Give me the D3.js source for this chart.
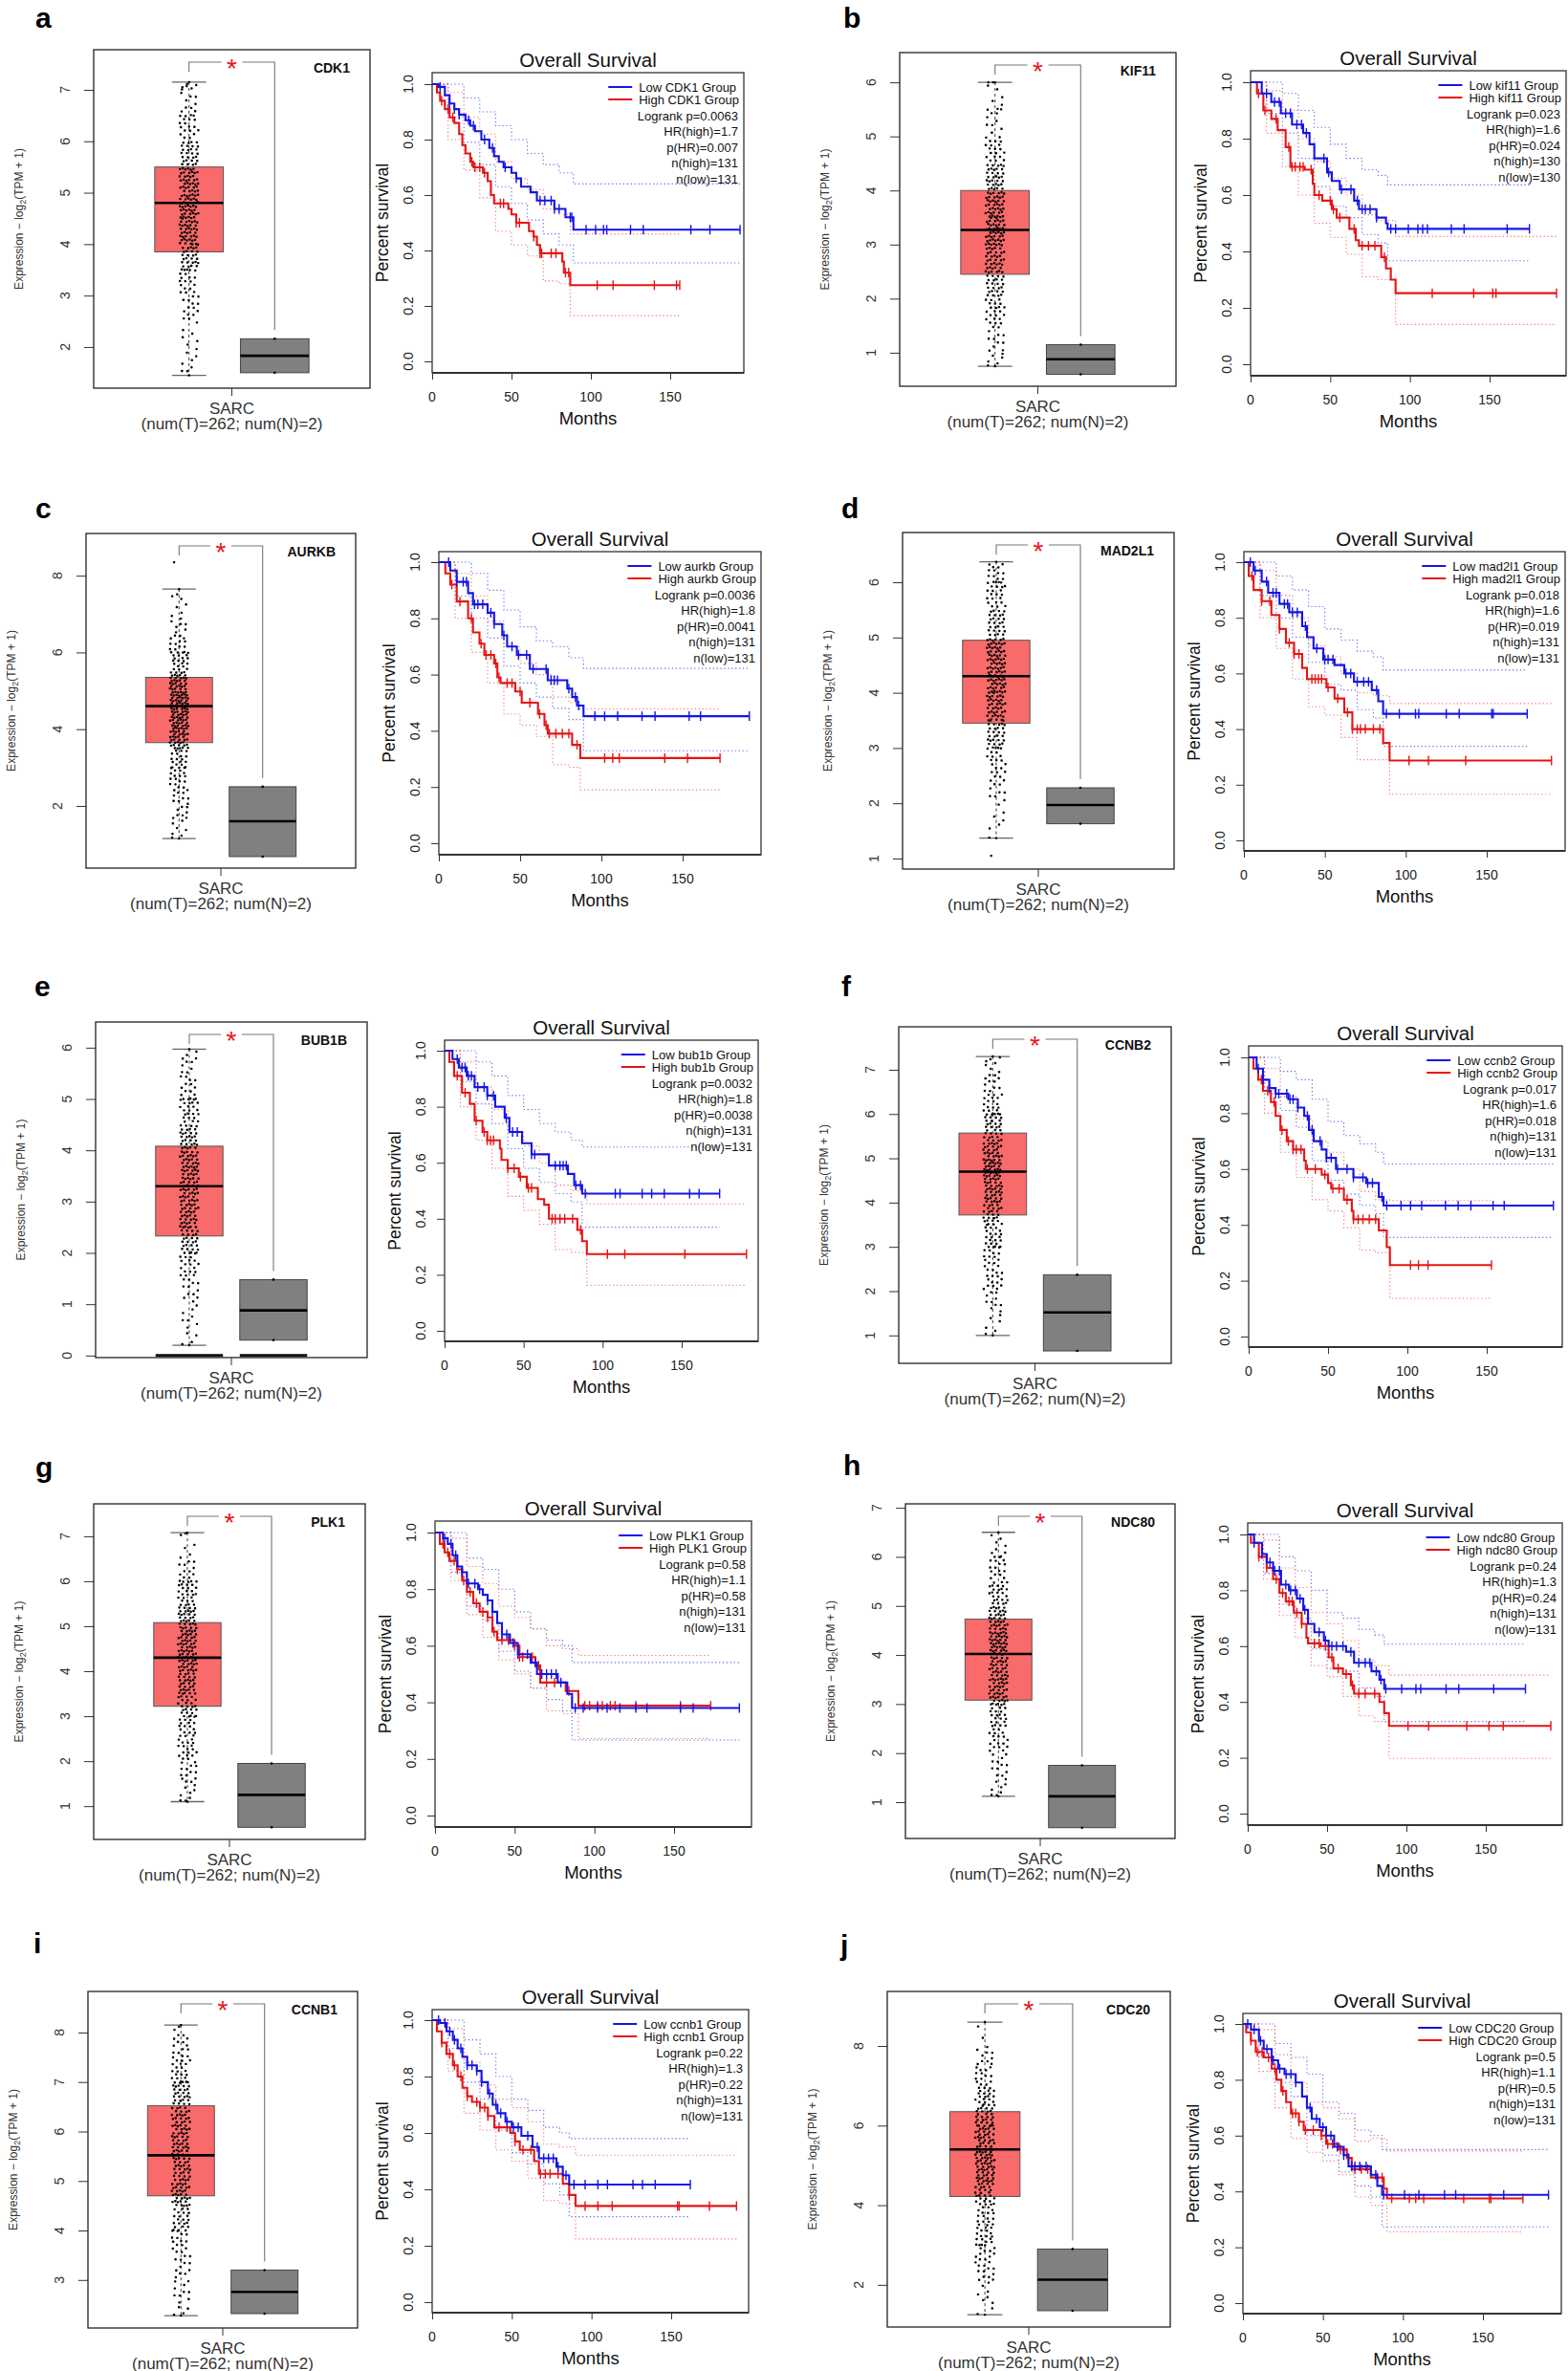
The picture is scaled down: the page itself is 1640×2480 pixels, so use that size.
<!DOCTYPE html>
<html><head><meta charset="utf-8">
<script src="https://cdn.jsdelivr.net/npm/d3@7"></script>
<style>body{margin:0;background:#fff}</style>
</head><body>
<svg id="fig" width="1640" height="2480" xmlns="http://www.w3.org/2000/svg"></svg>
<script>
// ---------------- DATA ----------------
const panelLetters = ["a","b","c","d","e","f","g","h","i","j"];
const genes = ["CDK1","KIF11","AURKB","MAD2L1","BUB1B","CCNB2","PLK1","NDC80","CCNB1","CDC20"];
const legendNames = ["CDK1","kif11","aurkb","mad2l1","bub1b","ccnb2","PLK1","ndc80","ccnb1","CDC20"];
const logrankP = ["0.0063","0.023","0.0036","0.018","0.0032","0.017","0.58","0.24","0.22","0.5"];
const hrHigh = ["1.7","1.6","1.8","1.6","1.8","1.6","1.1","1.3","1.3","1.1"];
const pHR = ["0.007","0.024","0.0041","0.019","0.0038","0.018","0.58","0.24","0.22","0.5"];
const nHigh = [131,130,131,131,131,131,131,131,131,131];
const nLow  = [131,130,131,131,131,131,131,131,131,131];
const cancerType = "SARC";
const sampleNote = "(num(T)=262; num(N)=2)";

// tumor box: [min, q1, median, q3, max]
const tumorBox = [
  [1.45,3.85,4.8,5.5,7.15],[0.75,2.45,3.27,4.0,6.0],[1.15,3.65,4.6,5.35,7.65],[1.37,3.45,4.3,4.95,6.37],
  [0.2,2.33,3.3,4.08,5.97],[1.0,3.72,4.7,5.57,7.3],[1.1,3.22,4.3,5.08,7.08],[1.12,3.08,4.02,4.73,6.5],
  [2.28,4.7,5.52,6.52,8.15],[1.25,4.22,5.4,6.35,8.6]];
const tumorOutliers = [[],[],[8.35],[1.05],[],[],[],[],[],[]];
// normal box: [min, median, max]
const normalBox = [[1.5,1.83,2.16],[0.6,0.88,1.15],[0.68,1.6,2.5],[1.63,1.97,2.28],[0.3,0.88,1.48],
  [0.65,1.52,2.37],[0.53,1.25,1.95],[0.48,1.12,1.75],[2.32,2.76,3.2],[1.35,2.13,2.9]];
const zeroBars = [false,false,false,false,true,false,false,false,false,false];
// tumor points: counts per 0.5-wide bin starting at jitterStart
const jitterStart = [1.5,0.5,1.0,1.0,0.0,1.0,1.0,1.0,2.0,1.0];
const jitterCounts = [
  [8,6,14,18,30,40,44,40,28,18,10,6],
  [6,12,22,28,36,44,42,34,20,10,6,2],
  [5,10,12,16,18,34,40,44,34,20,14,8,5,1],
  [1,6,12,18,30,40,46,44,28,22,14],
  [4,8,12,20,28,34,38,38,32,24,14,10],
  [6,10,16,16,20,26,34,40,32,26,18,12,6],
  [8,14,18,20,24,30,38,36,32,24,12,4,2],
  [8,12,18,24,36,34,44,36,26,16,8],
  [4,10,12,16,22,34,32,34,32,30,20,14,2],
  [2,6,12,14,18,16,24,32,34,30,26,22,14,10,2]];
const boxTicks = [[2,3,4,5,6,7],[1,2,3,4,5,6],[2,4,6,8],[1,2,3,4,5,6],[0,1,2,3,4,5,6],
  [1,2,3,4,5,6,7],[1,2,3,4,5,6,7],[1,2,3,4,5,6,7],[3,4,5,6,7,8],[2,4,6,8]];
const kmTicksX = [0,50,100,150];
const kmTicksY = [0,0.2,0.4,0.6,0.8,1.0];

// Kaplan-Meier step points [months, survival]
const kmLow = [
  [[0,1],[4,0.99],[8,0.96],[11,0.93],[14,0.91],[17,0.89],[21,0.87],[24,0.85],[27,0.83],[31,0.8],[36,0.77],[39,0.74],[42,0.72],[45,0.7],[50,0.68],[53,0.66],[56,0.63],[62,0.61],[66,0.58],[77,0.55],[84,0.52],[89,0.475]],
  [[0,1],[7,0.96],[13,0.93],[19,0.89],[26,0.85],[33,0.82],[37,0.78],[40,0.73],[48,0.68],[51,0.65],[56,0.62],[65,0.58],[68,0.55],[79,0.52],[85,0.5],[86,0.48]],
  [[0,1],[7,0.97],[11,0.93],[18,0.89],[21,0.85],[30,0.82],[34,0.78],[39,0.74],[42,0.7],[48,0.67],[56,0.62],[67,0.58],[79,0.55],[82,0.52],[85,0.49],[89,0.452]],
  [[0,1],[6,0.97],[11,0.93],[15,0.89],[22,0.85],[28,0.82],[36,0.77],[39,0.73],[43,0.69],[49,0.65],[56,0.63],[62,0.6],[68,0.57],[79,0.54],[83,0.5],[86,0.455]],
  [[0,1],[5,0.97],[9,0.94],[14,0.91],[19,0.87],[27,0.84],[32,0.8],[38,0.76],[41,0.71],[49,0.67],[55,0.63],[66,0.59],[78,0.56],[82,0.52],[87,0.49]],
  [[0,1],[5,0.96],[9,0.92],[13,0.89],[17,0.87],[25,0.85],[31,0.82],[35,0.79],[38,0.74],[41,0.7],[46,0.67],[49,0.64],[55,0.6],[66,0.57],[74,0.55],[82,0.5],[85,0.469]],
  [[0,1],[5,0.98],[8,0.96],[11,0.92],[14,0.88],[17,0.86],[20,0.82],[27,0.8],[30,0.78],[33,0.76],[36,0.72],[39,0.68],[42,0.64],[47,0.61],[52,0.57],[60,0.54],[64,0.5],[77,0.47],[83,0.43],[86,0.38]],
  [[0,1],[4,0.97],[9,0.93],[12,0.9],[16,0.87],[21,0.82],[26,0.8],[31,0.77],[35,0.73],[38,0.68],[42,0.65],[48,0.62],[51,0.6],[62,0.58],[67,0.54],[78,0.51],[83,0.48],[86,0.447]],
  [[0,1],[5,0.99],[9,0.96],[13,0.93],[16,0.9],[19,0.87],[22,0.84],[28,0.82],[31,0.78],[35,0.74],[38,0.7],[41,0.67],[46,0.64],[50,0.62],[56,0.59],[63,0.55],[67,0.51],[78,0.48],[82,0.45],[86,0.417]],
  [[0,1],[5,0.98],[10,0.94],[13,0.91],[18,0.87],[22,0.84],[26,0.82],[33,0.79],[37,0.74],[40,0.7],[43,0.66],[48,0.63],[52,0.6],[57,0.56],[63,0.53],[66,0.49],[80,0.46],[84,0.42],[87,0.388]]];
const kmHigh = [
  [[0,1],[3,0.97],[5,0.94],[8,0.91],[11,0.88],[14,0.86],[17,0.82],[19,0.78],[21,0.75],[24,0.72],[26,0.7],[32,0.68],[35,0.65],[37,0.6],[39,0.57],[48,0.55],[50,0.53],[53,0.5],[61,0.47],[64,0.45],[66,0.42],[68,0.39],[82,0.36],[83,0.32],[87,0.275]],
  [[0,1],[4,0.96],[8,0.9],[13,0.87],[17,0.83],[22,0.77],[25,0.7],[34,0.69],[39,0.64],[40,0.6],[45,0.58],[51,0.55],[54,0.52],[62,0.48],[66,0.44],[68,0.42],[82,0.38],[85,0.34],[88,0.3],[91,0.252]],
  [[0,1],[4,0.96],[7,0.92],[11,0.86],[18,0.8],[21,0.75],[25,0.71],[28,0.67],[34,0.64],[36,0.59],[38,0.57],[47,0.54],[51,0.5],[61,0.46],[65,0.42],[67,0.39],[82,0.35],[87,0.303]],
  [[0,1],[3,0.95],[6,0.9],[11,0.86],[17,0.81],[22,0.76],[26,0.71],[31,0.67],[36,0.62],[39,0.58],[51,0.55],[56,0.51],[62,0.46],[67,0.4],[86,0.35],[90,0.287]],
  [[0,1],[3,0.96],[6,0.91],[11,0.85],[16,0.81],[19,0.75],[24,0.71],[27,0.68],[35,0.65],[36,0.61],[40,0.58],[47,0.55],[52,0.51],[59,0.47],[63,0.45],[66,0.4],[84,0.36],[87,0.32],[90,0.274]],
  [[0,1],[3,0.96],[6,0.92],[9,0.88],[14,0.84],[17,0.79],[20,0.74],[24,0.7],[28,0.67],[35,0.63],[36,0.6],[46,0.58],[50,0.55],[52,0.53],[60,0.49],[65,0.45],[66,0.42],[82,0.38],[87,0.32],[89,0.256]],
  [[0,1],[3,0.96],[6,0.93],[9,0.9],[14,0.87],[17,0.83],[20,0.79],[24,0.75],[28,0.72],[33,0.7],[36,0.65],[39,0.62],[50,0.6],[53,0.56],[63,0.53],[66,0.47],[82,0.44],[90,0.388]],
  [[0,1],[2,0.97],[7,0.92],[12,0.88],[16,0.84],[20,0.79],[24,0.76],[29,0.72],[34,0.68],[37,0.63],[38,0.61],[46,0.6],[51,0.56],[54,0.52],[60,0.5],[65,0.46],[67,0.43],[83,0.4],[86,0.36],[89,0.314]],
  [[0,1],[3,0.96],[6,0.92],[9,0.88],[13,0.84],[16,0.8],[19,0.76],[22,0.73],[25,0.71],[30,0.69],[35,0.66],[39,0.62],[49,0.6],[52,0.57],[55,0.54],[64,0.5],[67,0.455],[82,0.42],[86,0.38],[90,0.341]],
  [[0,1],[2,0.97],[5,0.94],[8,0.9],[13,0.88],[18,0.84],[21,0.8],[24,0.76],[27,0.72],[30,0.68],[35,0.65],[38,0.62],[49,0.6],[52,0.57],[60,0.55],[65,0.52],[68,0.48],[80,0.45],[88,0.41],[90,0.375]]];
// censoring times (months); last one ends the curve
const censLow = [
  [5,11,14,17,23,26,33,38,46,53,68,71,75,77,80,87,88,97,103,108,110,125,133,163,175,194],
  [10,15,18,22,25,29,32,35,46,49,57,63,67,70,72,75,79,88,91,99,105,108,111,126,134,161,175],
  [6,11,15,17,22,24,27,32,34,40,45,49,54,58,66,69,71,73,80,84,86,96,102,110,125,133,154,161,191],
  [4,7,14,18,20,25,27,30,33,38,45,50,52,55,63,66,70,74,77,82,88,96,106,108,125,133,153,154,175],
  [8,11,13,15,17,21,25,27,31,39,43,46,55,57,70,73,75,77,83,86,89,108,111,125,131,139,155,161,174],
  [6,9,13,17,19,24,26,28,31,37,40,45,49,52,56,62,66,72,75,78,84,87,96,102,109,124,132,140,154,161,192],
  [6,10,13,17,21,25,28,33,36,42,45,49,52,58,63,67,70,73,76,79,88,93,102,108,116,126,133,154,162,191],
  [4,9,14,17,20,24,27,30,33,36,45,49,53,56,60,65,70,74,77,81,84,87,97,106,109,125,133,155,175],
  [4,8,11,14,18,22,25,28,31,36,40,43,47,51,54,60,66,70,73,76,79,84,89,96,104,110,126,132,140,162],
  [3,7,11,15,19,23,27,30,33,42,46,50,55,59,63,68,70,73,77,83,88,101,110,126,133,163,191]];
const censHigh = [
  [6,10,13,25,27,30,33,43,45,53,55,64,68,69,75,78,84,86,104,114,140,154,156],
  [5,9,16,24,26,28,31,33,38,43,50,52,56,65,70,74,78,84,114,140,152,154,192],
  [8,13,20,26,29,32,35,37,42,45,50,56,62,66,68,72,76,80,85,102,107,111,139,153,173],
  [5,11,16,22,28,31,34,42,44,46,48,52,58,64,67,70,72,75,80,84,102,114,137,190],
  [8,13,20,25,27,29,31,40,44,48,53,55,68,70,73,76,81,86,103,114,152,191],
  [8,12,16,21,25,28,30,33,37,42,48,53,57,62,66,69,72,76,80,102,107,113,153],
  [5,8,12,14,18,22,26,30,33,37,42,46,50,53,55,61,65,70,75,84,94,97,102,105,110,113,126,154,173],
  [7,12,18,22,26,28,31,34,42,45,49,53,57,62,66,70,74,80,101,114,138,152,161,191],
  [6,11,14,18,22,28,30,33,35,42,47,52,57,62,68,71,74,79,86,96,104,113,154,155,174,191],
  [5,9,12,16,20,25,31,33,35,39,44,49,53,56,61,66,70,74,78,84,87,93,104,108,113,138,154,155,175]];
// 95% confidence bands (coarse steps)
const ciLowUp = [
  [[0,1],[10,1],[20,0.95],[30,0.9],[40,0.85],[50,0.8],[60,0.75],[70,0.71],[80,0.68],[89,0.64]],
  [[0,1],[10,1],[20,0.96],[30,0.9],[40,0.84],[50,0.78],[60,0.73],[70,0.69],[80,0.67],[86,0.636]],
  [[0,1],[10,1],[20,0.96],[30,0.9],[40,0.83],[50,0.77],[60,0.72],[70,0.7],[80,0.66],[89,0.622]],
  [[0,1],[10,1],[20,0.95],[30,0.9],[40,0.84],[50,0.76],[60,0.72],[70,0.68],[80,0.66],[86,0.612]],
  [[0,1],[10,1],[20,0.96],[30,0.91],[40,0.84],[50,0.79],[60,0.74],[70,0.71],[80,0.68],[87,0.656]],
  [[0,1],[10,1],[20,0.95],[30,0.92],[40,0.85],[50,0.77],[60,0.72],[70,0.69],[80,0.66],[85,0.618]],
  [[0,1],[10,1],[20,0.91],[30,0.87],[40,0.8],[50,0.72],[60,0.66],[70,0.62],[80,0.6],[86,0.541]],
  [[0,1],[10,1],[20,0.92],[30,0.87],[40,0.8],[50,0.72],[60,0.7],[70,0.66],[80,0.64],[86,0.607]],
  [[0,1],[10,1],[20,0.93],[30,0.88],[40,0.8],[50,0.72],[60,0.68],[70,0.62],[80,0.6],[86,0.58]],
  [[0,1],[10,1],[20,0.93],[30,0.88],[40,0.82],[50,0.72],[60,0.68],[70,0.62],[80,0.6],[87,0.55]]];
const ciLowLo = [
  [[0,1],[10,0.88],[20,0.79],[30,0.71],[40,0.63],[50,0.57],[60,0.51],[70,0.46],[80,0.42],[89,0.355]],
  [[0,1],[10,0.89],[20,0.82],[30,0.73],[40,0.63],[50,0.56],[60,0.52],[70,0.46],[80,0.43],[86,0.367]],
  [[0,1],[10,0.88],[20,0.8],[30,0.73],[40,0.63],[50,0.57],[60,0.52],[70,0.48],[80,0.44],[89,0.329]],
  [[0,1],[10,0.88],[20,0.8],[30,0.73],[40,0.64],[50,0.56],[60,0.54],[70,0.47],[80,0.44],[86,0.338]],
  [[0,1],[10,0.89],[20,0.81],[30,0.74],[40,0.65],[50,0.58],[60,0.53],[70,0.49],[80,0.46],[87,0.37]],
  [[0,1],[10,0.87],[20,0.81],[30,0.75],[40,0.63],[50,0.56],[60,0.51],[70,0.47],[80,0.44],[85,0.355]],
  [[0,1],[10,0.86],[20,0.74],[30,0.69],[40,0.58],[50,0.51],[60,0.45],[70,0.41],[80,0.37],[86,0.267]],
  [[0,1],[10,0.86],[20,0.75],[30,0.7],[40,0.59],[50,0.52],[60,0.51],[70,0.45],[80,0.42],[86,0.33]],
  [[0,1],[10,0.9],[20,0.78],[30,0.72],[40,0.61],[50,0.53],[60,0.49],[70,0.42],[80,0.38],[86,0.303]],
  [[0,1],[10,0.88],[20,0.79],[30,0.74],[40,0.6],[50,0.53],[60,0.47],[70,0.42],[80,0.38],[87,0.273]]];
const ciHighUp = [
  [[0,1],[10,0.97],[20,0.88],[30,0.82],[40,0.72],[50,0.66],[60,0.62],[70,0.55],[80,0.53],[87,0.46]],
  [[0,1],[10,0.97],[20,0.9],[30,0.8],[40,0.72],[50,0.66],[60,0.6],[70,0.53],[80,0.51],[91,0.453]],
  [[0,1],[10,0.96],[20,0.88],[30,0.79],[40,0.7],[50,0.64],[60,0.6],[70,0.52],[80,0.5],[87,0.478]],
  [[0,1],[10,0.97],[20,0.88],[30,0.8],[40,0.7],[50,0.66],[60,0.6],[70,0.53],[80,0.52],[90,0.492]],
  [[0,1],[10,0.96],[20,0.87],[30,0.79],[40,0.71],[50,0.66],[60,0.6],[70,0.52],[80,0.5],[90,0.453]],
  [[0,1],[10,0.96],[20,0.86],[30,0.78],[40,0.7],[50,0.66],[60,0.6],[70,0.52],[80,0.49],[89,0.487]],
  [[0,1],[10,0.98],[20,0.88],[30,0.82],[40,0.74],[50,0.7],[60,0.66],[70,0.6],[80,0.59],[90,0.566]],
  [[0,1],[10,0.98],[20,0.88],[30,0.81],[40,0.72],[50,0.68],[60,0.62],[70,0.55],[80,0.53],[89,0.496]],
  [[0,1],[10,0.97],[20,0.85],[30,0.77],[40,0.72],[50,0.69],[60,0.64],[70,0.56],[80,0.55],[90,0.521]],
  [[0,1],[10,0.98],[20,0.89],[30,0.79],[40,0.72],[50,0.7],[60,0.66],[70,0.58],[80,0.59],[90,0.545]]];
const ciHighLo = [
  [[0,1],[10,0.8],[20,0.69],[30,0.59],[40,0.47],[50,0.42],[60,0.38],[70,0.29],[80,0.28],[87,0.165]],
  [[0,1],[10,0.82],[20,0.7],[30,0.6],[40,0.5],[50,0.45],[60,0.39],[70,0.31],[80,0.3],[91,0.141]],
  [[0,1],[10,0.8],[20,0.68],[30,0.57],[40,0.46],[50,0.42],[60,0.38],[70,0.28],[80,0.27],[87,0.19]],
  [[0,1],[10,0.8],[20,0.69],[30,0.58],[40,0.48],[50,0.45],[60,0.37],[70,0.29],[80,0.29],[90,0.166]],
  [[0,1],[10,0.8],[20,0.68],[30,0.58],[40,0.48],[50,0.43],[60,0.38],[70,0.29],[80,0.28],[90,0.163]],
  [[0,1],[10,0.8],[20,0.66],[30,0.57],[40,0.49],[50,0.45],[60,0.39],[70,0.31],[80,0.3],[89,0.137]],
  [[0,1],[10,0.83],[20,0.71],[30,0.63],[40,0.55],[50,0.5],[60,0.45],[70,0.37],[80,0.36],[90,0.272]],
  [[0,1],[10,0.84],[20,0.71],[30,0.63],[40,0.53],[50,0.49],[60,0.42],[70,0.35],[80,0.33],[89,0.198]],
  [[0,1],[10,0.82],[20,0.67],[30,0.61],[40,0.54],[50,0.5],[60,0.44],[70,0.36],[80,0.35],[90,0.224]],
  [[0,1],[10,0.83],[20,0.7],[30,0.59],[40,0.54],[50,0.51],[60,0.46],[70,0.38],[80,0.35],[90,0.255]]];

// ---------------- LAYOUT (pixel positions) ----------------
const layout = [
 {letter:[37,29],   box:[98,387,52,406],    boxDom:[1.20,7.78],  km:[452,778,76,390],     kmY:[378,88],    kmX150:701},
 {letter:[882,29],  box:[941,1230,55,404],  boxDom:[0.38,6.55],  km:[1308,1638,74,393],   kmY:[381,86],    kmX150:1558},
 {letter:[37,542],  box:[90,372,558,908],   boxDom:[0.38,9.10],  km:[459,796,577,894],    kmY:[882,588],   kmX150:714},
 {letter:[880,542], box:[944,1228,557,909], boxDom:[0.81,6.90],  km:[1301,1637,577,890],  kmY:[879,588],   kmX150:1555},
 {letter:[36,1042], box:[100,384,1069,1420],boxDom:[-0.04,6.50], km:[465,793,1088,1403],  kmY:[1392,1099], kmX150:713},
 {letter:[880,1042],box:[940,1225,1074,1426],boxDom:[0.37,7.97], km:[1306,1634,1094,1409],kmY:[1398,1106], kmX150:1555},
 {letter:[37,1545], box:[98,382,1573,1924], boxDom:[0.26,7.72],  km:[455,786,1591,1911],  kmY:[1899,1603], kmX150:705},
 {letter:[882,1543],box:[947,1229,1573,1923],boxDom:[0.26,7.08], km:[1305,1634,1593,1909],kmY:[1897,1605], kmX150:1554},
 {letter:[35,2043], box:[92,374,2083,2435], boxDom:[2.03,8.83],  km:[452,783,2102,2419],  kmY:[2408,2113], kmX150:702},
 {letter:[879,2045],box:[928,1224,2083,2434],boxDom:[0.94,9.37], km:[1300,1633,2106,2420],kmY:[2409,2117], kmX150:1551}];

const FONT = "'Liberation Sans', Arial, Helvetica, sans-serif";
const BLUE = "#1414e6", RED = "#e61414";
const svg = d3.select("#fig");
svg.append("rect").attr("width",1640).attr("height",2480).attr("fill","#fff");

function stepValue(curve, t) {
  let s = 1;
  for (const [ti, si] of curve) { if (ti <= t) s = si; else break; }
  return s;
}
const frac = v => v - Math.floor(v);

function drawBox(g, p, L) {
  const [bx0, bx1, by0, by1] = L.box;
  const y = d3.scaleLinear().domain(L.boxDom).range([by1, by0]);
  const x = d3.scaleLinear().domain([-0.113, 3.113]).range([bx0, bx1]);
  const hw = 0.4;
  const tb = tumorBox[p], nb = normalBox[p];

  // y axis ticks
  const ax = g.append("g").attr("transform", `translate(${bx0},0)`)
    .call(d3.axisLeft(y).tickValues(boxTicks[p]).tickSize(10).tickFormat(""));
  ax.select(".domain").remove();
  ax.selectAll("line").attr("stroke", "#333").attr("stroke-width", 1);
  boxTicks[p].forEach(v => {
    const cx = bx0 - 30, cy = y(v);
    g.append("text").attr("x", cx).attr("y", cy + 5).attr("transform", `rotate(-90,${cx},${cy})`)
      .attr("text-anchor", "middle").attr("font-family", FONT).attr("font-size", 14).attr("fill", "#333").text(v);
  });
  // y title
  const tx = bx0 - 78, ty = (by0 + by1) / 2;
  const yt = g.append("text").attr("x", tx).attr("y", ty + 4).attr("transform", `rotate(-90,${tx},${ty})`)
    .attr("text-anchor", "middle").attr("font-family", FONT).attr("font-size", 12).attr("fill", "#333");
  yt.append("tspan").text("Expression \u2212 log");
  yt.append("tspan").attr("font-size", 9).attr("dy", 3).text("2");
  yt.append("tspan").attr("dy", -3).text("(TPM + 1)");

  // zero bars (panel e)
  if (zeroBars[p]) {
    [1, 2].forEach(c => g.append("line").attr("x1", x(c - hw)).attr("x2", x(c + hw))
      .attr("y1", y(0)).attr("y2", y(0)).attr("stroke", "#111").attr("stroke-width", 3));
  }

  // tumor whiskers (dashed) and caps
  g.append("line").attr("x1", x(1)).attr("x2", x(1)).attr("y1", y(tb[4])).attr("y2", y(tb[0]))
    .attr("stroke", "#222").attr("stroke-width", 0.9).attr("stroke-dasharray", "3,3");
  [tb[0], tb[4]].forEach(v => g.append("line").attr("x1", x(1 - 0.2)).attr("x2", x(1 + 0.2))
    .attr("y1", y(v)).attr("y2", y(v)).attr("stroke", "#666").attr("stroke-width", 1.3));
  // tumor box
  g.append("rect").attr("x", x(1 - hw)).attr("width", x(1 + hw) - x(1 - hw))
    .attr("y", y(tb[3])).attr("height", y(tb[1]) - y(tb[3]))
    .attr("fill", "#f96a6a").attr("stroke", "#555").attr("stroke-width", 1);
  // normal box
  g.append("rect").attr("x", x(2 - hw)).attr("width", x(2 + hw) - x(2 - hw))
    .attr("y", y(nb[2])).attr("height", y(nb[0]) - y(nb[2]))
    .attr("fill", "#808080").attr("stroke", "#444").attr("stroke-width", 1);

  // jitter points: values spread through each bin, horizontal jitter as a layout offset
  const pts = [];
  let idx = 0;
  jitterCounts[p].forEach((n, b) => {
    let lo = jitterStart[p] + 0.5 * b, hi = lo + 0.5;
    lo = Math.max(lo, tb[0]); hi = Math.min(hi, tb[4]);
    for (let k = 0; k < n; k++) {
      const v = lo + frac(0.5 + (k + 1) * 0.5698402910 + b * 0.31) * (hi - lo);
      const u = frac(0.37 + (idx + 1) * 0.7548776662);
      const off = (u - 0.5) * 0.22;
      pts.push([1 + off, v]); idx++;
    }
  });
  tumorOutliers[p].forEach(v => pts.push([0.94, v]));
  pts.push([1, tb[0]], [1, tb[4]]);
  g.append("g").selectAll("rect").data(pts).join("rect")
    .attr("x", d => x(d[0]) - 1.2).attr("y", d => y(d[1]) - 1.2).attr("width", 2.4).attr("height", 2.4)
    .attr("rx", 0.8).attr("fill", "#000");
  // normal points
  [nb[0], nb[2]].forEach(v => g.append("circle").attr("cx", x(2)).attr("cy", y(v)).attr("r", 1.3).attr("fill", "#000"));

  // medians
  g.append("line").attr("x1", x(1 - hw)).attr("x2", x(1 + hw)).attr("y1", y(tb[2])).attr("y2", y(tb[2]))
    .attr("stroke", "#000").attr("stroke-width", 2.6);
  g.append("line").attr("x1", x(2 - hw)).attr("x2", x(2 + hw)).attr("y1", y(nb[1])).attr("y2", y(nb[1]))
    .attr("stroke", "#000").attr("stroke-width", 2.6);

  // significance bracket
  const bY = by0 + 13, xl = x(1), xr = x(2), xm = (xl + xr) / 2;
  g.append("path").attr("d", `M${xl},${bY + 10}V${bY}H${xm - 11}M${xm + 11},${bY}H${xr}V${y(nb[2]) - 9}`)
    .attr("fill", "none").attr("stroke", "#777").attr("stroke-width", 1.1);
  g.append("text").attr("x", xm).attr("y", bY + 16).attr("text-anchor", "middle")
    .attr("font-family", FONT).attr("font-size", 28).attr("fill", "#e8141d").text("*");
  // gene
  g.append("text").attr("x", bx1 - 21).attr("y", by0 + 24).attr("text-anchor", "end")
    .attr("font-family", FONT).attr("font-weight", "bold").attr("font-size", 14).attr("fill", "#111").text(genes[p]);

  // frame
  g.append("rect").attr("x", bx0).attr("y", by0).attr("width", bx1 - bx0).attr("height", by1 - by0)
    .attr("fill", "none").attr("stroke", "#222").attr("stroke-width", 1.3);
  // category axis
  const cx = x(1.5);
  g.append("line").attr("x1", cx).attr("x2", cx).attr("y1", by1).attr("y2", by1 + 8).attr("stroke", "#333");
  g.append("text").attr("x", cx).attr("y", by1 + 27).attr("text-anchor", "middle").attr("font-family", FONT)
    .attr("font-size", 17).attr("fill", "#333").text(cancerType);
  g.append("text").attr("x", cx).attr("y", by1 + 42.5).attr("text-anchor", "middle").attr("font-family", FONT)
    .attr("font-size", 17).attr("fill", "#333").text(sampleNote);
}

function drawKM(g, p, L) {
  const [kx0, kx1, ky0, ky1] = L.km;
  const xs = d3.scaleLinear().domain([0, 150]).range([kx0, L.kmX150]);
  const ys = d3.scaleLinear().domain([0, 1]).range(L.kmY);

  // axes
  const axx = g.append("g").attr("transform", `translate(0,${ky1})`)
    .call(d3.axisBottom(xs).tickValues(kmTicksX).tickSize(7).tickFormat(""));
  axx.select(".domain").remove();
  axx.selectAll("line").attr("stroke", "#333");
  kmTicksX.forEach(v => g.append("text").attr("x", xs(v)).attr("y", ky1 + 30).attr("text-anchor", "middle")
    .attr("font-family", FONT).attr("font-size", 14).attr("fill", "#222").text(v));
  const axy = g.append("g").attr("transform", `translate(${kx0},0)`)
    .call(d3.axisLeft(ys).tickValues(kmTicksY).tickSize(8).tickFormat(""));
  axy.select(".domain").remove();
  axy.selectAll("line").attr("stroke", "#333");
  kmTicksY.forEach(v => {
    const cx = kx0 - 25, cy = ys(v);
    g.append("text").attr("x", cx).attr("y", cy + 5).attr("transform", `rotate(-90,${cx},${cy})`)
      .attr("text-anchor", "middle").attr("font-family", FONT).attr("font-size", 14).attr("fill", "#222")
      .text(d3.format(".1f")(v));
  });
  // labels
  g.append("text").attr("x", (kx0 + kx1) / 2).attr("y", ky0 - 6).attr("text-anchor", "middle")
    .attr("font-family", FONT).attr("font-size", 20.5).attr("fill", "#111").text("Overall Survival");
  g.append("text").attr("x", (kx0 + kx1) / 2).attr("y", ky1 + 54).attr("text-anchor", "middle")
    .attr("font-family", FONT).attr("font-size", 18.5).attr("fill", "#111").text("Months");
  const tx = kx0 - 52, ty = (ky0 + ky1) / 2;
  g.append("text").attr("x", tx).attr("y", ty + 6).attr("transform", `rotate(-90,${tx},${ty})`)
    .attr("text-anchor", "middle").attr("font-family", FONT).attr("font-size", 17.5).attr("fill", "#111")
    .text("Percent survival");

  const line = d3.line().curve(d3.curveStepAfter).x(d => xs(d[0])).y(d => ys(d[1]));
  const withEnd = (pts, end) => pts.concat([[end, pts[pts.length - 1][1]]]);
  const endLow = censLow[p][censLow[p].length - 1], endHigh = censHigh[p][censHigh[p].length - 1];

  // confidence bands
  [[ciLowUp, endLow, "#5c5cf0"], [ciLowLo, endLow, "#5c5cf0"], [ciHighUp, endHigh, "#f06c6c"], [ciHighLo, endHigh, "#f06c6c"]]
    .forEach(([arr, end, col]) => g.append("path").attr("d", line(withEnd(arr[p], end)))
      .attr("fill", "none").attr("stroke", col).attr("stroke-width", 1.1).attr("stroke-dasharray", "1.3,2.6").attr("opacity", 0.9));

  // survival curves + censor marks
  [[kmHigh, censHigh, endHigh, RED], [kmLow, censLow, endLow, BLUE]].forEach(([km, cens, end, col]) => {
    g.append("path").attr("d", line(withEnd(km[p], end))).attr("fill", "none").attr("stroke", col).attr("stroke-width", 2.1);
    g.append("g").selectAll("line").data(cens[p]).join("line")
      .attr("x1", d => xs(d)).attr("x2", d => xs(d))
      .attr("y1", d => ys(stepValue(km[p], d)) - 5).attr("y2", d => ys(stepValue(km[p], d)) + 5)
      .attr("stroke", col).attr("stroke-width", 1.4);
  });

  // frame
  g.append("rect").attr("x", kx0).attr("y", ky0).attr("width", kx1 - kx0).attr("height", ky1 - ky0)
    .attr("fill", "none").attr("stroke", "#333").attr("stroke-width", 1.3);
  g.append("line").attr("x1", kx0).attr("x2", kx1).attr("y1", ky1).attr("y2", ky1).attr("stroke", "#333").attr("stroke-width", 2);

  // legend
  const labels = [`Low ${legendNames[p]} Group`, `High ${legendNames[p]} Group`];
  const tmp = g.append("text").attr("font-family", FONT).attr("font-size", 13).text(labels[1]);
  const w = tmp.node().getComputedTextLength(); tmp.remove();
  const tStart = kx1 - 5 - w;
  labels.forEach((lab, i) => {
    const cy = ky0 + 15 + 13 * i;
    g.append("line").attr("x1", tStart - 32).attr("x2", tStart - 7).attr("y1", cy).attr("y2", cy)
      .attr("stroke", i ? RED : BLUE).attr("stroke-width", 2);
    g.append("text").attr("x", tStart).attr("y", cy + 4.5).attr("font-family", FONT).attr("font-size", 13)
      .attr("fill", "#111").text(lab);
  });
  const stats = [`Logrank p=${logrankP[p]}`, `HR(high)=${hrHigh[p]}`, `p(HR)=${pHR[p]}`, `n(high)=${nHigh[p]}`, `n(low)=${nLow[p]}`];
  stats.forEach((s, i) => g.append("text").attr("x", kx1 - 6).attr("y", ky0 + 45 + 16.5 * i + 4.5)
    .attr("text-anchor", "end").attr("font-family", FONT).attr("font-size", 13).attr("fill", "#111").text(s));
}

panelLetters.forEach((letter, p) => {
  const L = layout[p];
  const g = svg.append("g");
  g.append("text").attr("x", L.letter[0]).attr("y", L.letter[1]).attr("font-family", FONT)
    .attr("font-weight", "bold").attr("font-size", 30).attr("fill", "#000").text(letter);
  drawBox(g, p, L);
  drawKM(g, p, L);
});
</script>
</body></html>
